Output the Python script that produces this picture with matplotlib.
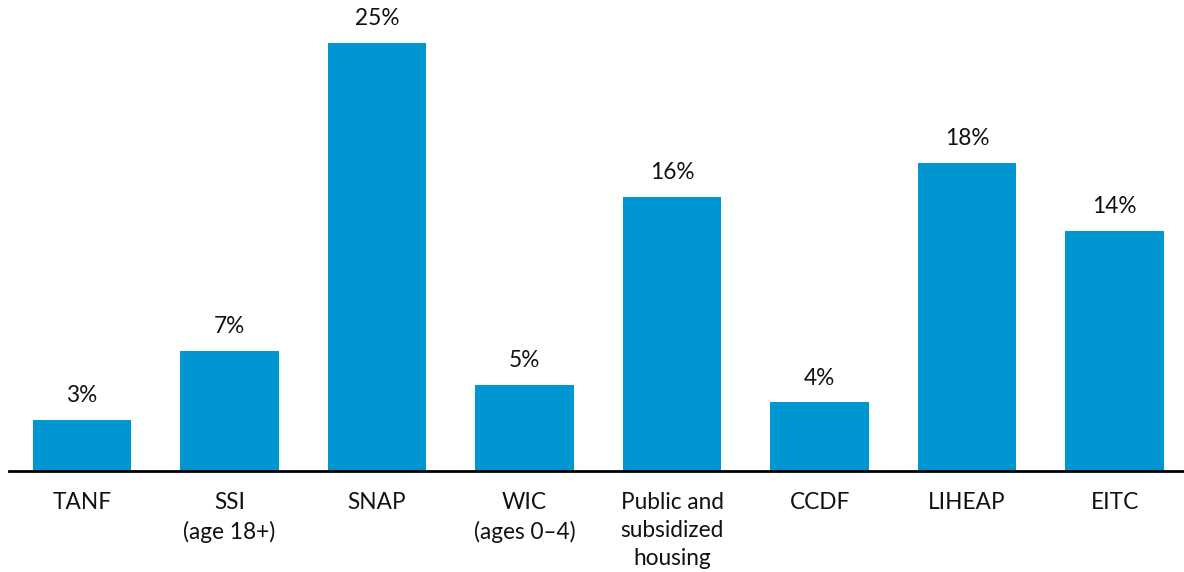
import matplotlib
matplotlib.use("Agg")
import matplotlib.pyplot as plt

categories = ["TANF", "SSI\n(age 18+)", "SNAP", "WIC\n(ages 0\u20134)",
              "Public and\nsubsidized\nhousing", "CCDF", "LIHEAP", "EITC"]
shares = [3, 7, 25, 5, 16, 4, 18, 14]

plt.rcParams["font.family"] = ["Lato", "DejaVu Sans"]

fig = plt.figure(figsize=(11.84, 5.72), dpi=100)
ax = fig.add_axes([9 / 1184, 101 / 572, 1 - 9 / 1184, 471 / 572])

x = list(range(len(categories)))
bars = ax.bar(x, shares, width=0.667, color="#0096D2", zorder=2)

for b, v in zip(bars, shares):
    ax.annotate(f"{v}%", (b.get_x() + b.get_width() / 2, b.get_height()),
                xytext=(0, 10), textcoords="offset points",
                ha="center", va="bottom", fontsize=16.3, color="#111111")

ax.set_xlim(-0.495, 7.47)
ax.set_ylim(0, 27.5)
ax.set_xticks(x)
ax.set_xticklabels(categories, fontsize=16.3, color="#111111", linespacing=1.42)
ax.tick_params(axis="x", length=0, pad=15)
ax.set_yticks([])
for s in ["top", "right", "left"]:
    ax.spines[s].set_visible(False)
ax.spines["bottom"].set_linewidth(2)
ax.spines["bottom"].set_color("#000000")

fig.savefig("out.png", dpi=100)
